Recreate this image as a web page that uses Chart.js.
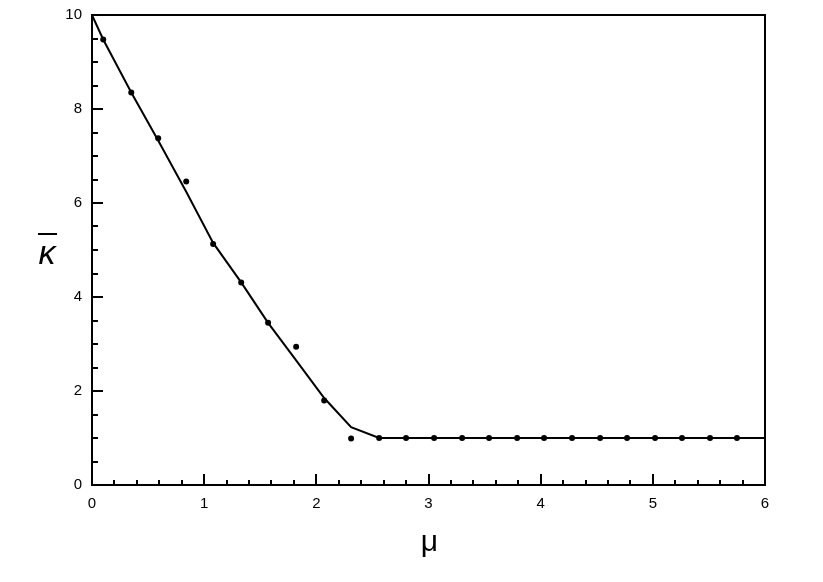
<!DOCTYPE html>
<html>
<head>
<meta charset="utf-8">
<script src="https://cdn.jsdelivr.net/npm/chart.js@4"></script>
<style>
  html, body { margin: 0; padding: 0; background: #fff; }
  #wrap { width: 823px; height: 582px; }
</style>
</head>
<body>
<div id="wrap"><canvas id="myChart" width="823" height="582"></canvas></div>
<script>
// fitted curve
const lineX = [0, 0.1, 0.35, 0.59, 0.84, 1.08, 1.33, 1.57, 1.82, 2.07, 2.31, 2.56, 6];
const lineY = [10, 9.48, 8.35, 7.33, 6.24, 5.15, 4.31, 3.45, 2.65, 1.85, 1.23, 1.0, 1.0];

// measured points
const pointX = [0.1, 0.35, 0.59, 0.84, 1.08, 1.33, 1.57, 1.82, 2.07, 2.31, 2.56, 2.80,
                3.05, 3.30, 3.54, 3.79, 4.03, 4.28, 4.53, 4.77, 5.02, 5.26, 5.51, 5.75];
const pointY = [9.48, 8.35, 7.38, 6.46, 5.13, 4.31, 3.45, 2.94, 1.80, 0.99, 1.0, 1.0,
                1.0, 1.0, 1.0, 1.0, 1.0, 1.0, 1.0, 1.0, 1.0, 1.0, 1.0, 1.0];

const xTicks = [0, 1, 2, 3, 4, 5, 6];
const yTicks = [0, 2, 4, 6, 8, 10];

const toXY = (xs, ys) => xs.map((x, i) => ({ x: x, y: ys[i] }));
const tickFont = { size: 15, family: '"Liberation Sans", Arial, sans-serif' };

// inward ticks, major + minor, plus axis titles
const axisDecor = {
  id: 'axisDecor',
  afterDraw(chart) {
    const ctx = chart.ctx;
    const a = chart.chartArea;
    const xs = chart.scales.x, ys = chart.scales.y;
    ctx.save();
    ctx.strokeStyle = '#000';
    ctx.lineWidth = 2;
    ctx.beginPath();
    for (let v = 0; v <= 6.001; v += 0.2) {
      const px = Math.round(xs.getPixelForValue(v));
      const major = Math.abs(v - Math.round(v)) < 0.01;
      ctx.moveTo(px, a.bottom);
      ctx.lineTo(px, a.bottom - (major ? 11 : 5));
    }
    for (let v = 0; v <= 10.001; v += 0.5) {
      const py = Math.round(ys.getPixelForValue(v));
      const major = Math.abs(v / 2 - Math.round(v / 2)) < 0.01;
      ctx.moveTo(a.left, py);
      ctx.lineTo(a.left + (major ? 11 : 6), py);
    }
    ctx.stroke();

    ctx.fillStyle = '#000';
    ctx.textAlign = 'center';
    ctx.textBaseline = 'alphabetic';
    ctx.font = '30px "Liberation Sans", Arial, sans-serif';
    ctx.fillText('\u03bc', (a.left + a.right) / 2 + 1, 551);

    ctx.font = 'italic 34px "Liberation Sans", Arial, sans-serif';
    ctx.fillText('\u03ba', 47, 264);
    ctx.lineWidth = 2;
    ctx.beginPath();
    ctx.moveTo(38, 234);
    ctx.lineTo(57, 234);
    ctx.stroke();
    ctx.restore();
  }
};

const noPadX = (scale) => { scale.paddingLeft = 0; scale.paddingRight = 0; };
const noPadY = (scale) => { scale.paddingTop = 0; scale.paddingBottom = 0; };

const config = {
  type: 'scatter',
  data: {
    datasets: [{
      label: 'fit',
      data: toXY(lineX, lineY),
      showLine: true,
      borderColor: '#000',
      borderWidth: 2,
      pointRadius: 0,
      fill: false
    }, {
      label: 'data',
      data: toXY(pointX, pointY),
      showLine: false,
      backgroundColor: '#000',
      borderColor: '#000',
      pointRadius: 3,
      borderWidth: 0
    }]
  },
  options: {
    responsive: false,
    animation: false,
    layout: { padding: { top: 15, right: 58, left: 0, bottom: 0 } },
    plugins: { legend: { display: false }, tooltip: { enabled: false } },
    scales: {
      x: {
        type: 'linear',
        min: 0, max: 6,
        afterFit(scale) { scale.height = 97; noPadX(scale); },
        afterBuildTicks(scale) { scale.ticks = xTicks.map(v => ({ value: v })); },
        grid: { display: false, drawTicks: false },
        border: { display: true, color: '#000', width: 2 },
        ticks: { color: '#000', padding: 10, maxRotation: 0, font: tickFont }
      },
      y: {
        type: 'linear',
        min: 0, max: 10,
        afterFit(scale) { scale.width = 92; noPadY(scale); },
        afterBuildTicks(scale) { scale.ticks = yTicks.map(v => ({ value: v })); },
        grid: { display: false, drawTicks: false },
        border: { display: true, color: '#000', width: 2 },
        ticks: { color: '#000', padding: 10, font: tickFont }
      },
      x2: {
        type: 'linear', position: 'top', min: 0, max: 6,
        afterFit(scale) { scale.height = 0; noPadX(scale); },
        grid: { display: false, drawTicks: false },
        border: { display: true, color: '#000', width: 2 },
        ticks: { display: false }
      },
      y2: {
        type: 'linear', position: 'right', min: 0, max: 10,
        afterFit(scale) { scale.width = 0; noPadY(scale); },
        grid: { display: false, drawTicks: false },
        border: { display: true, color: '#000', width: 2 },
        ticks: { display: false }
      }
    }
  },
  plugins: [axisDecor]
};

var myChart = new Chart(document.getElementById('myChart'), config);
</script>
</body>
</html>
